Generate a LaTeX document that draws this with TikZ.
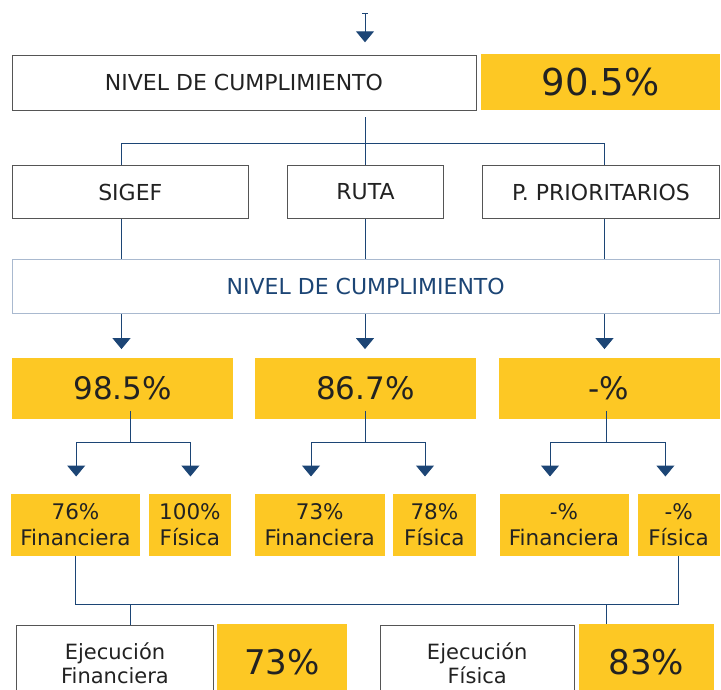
\documentclass[tikz,border=0pt]{standalone}
\usepackage{fontspec}
\setmainfont{DejaVu Sans}
\usetikzlibrary{arrows.meta}
\definecolor{yel}{HTML}{FDC824}
\definecolor{navy}{HTML}{1C4575}
\definecolor{bord}{HTML}{555555}
\definecolor{lbord}{HTML}{A9B9CF}
\definecolor{ink}{HTML}{222222}
\begin{document}
\begin{tikzpicture}[x=1pt,y=-1pt,
  wbox/.style={draw=bord,line width=1pt,fill=white,inner sep=0pt,font=\fontsize{22}{26}\selectfont,text=ink},
  ybox/.style={fill=yel,draw=none,inner sep=0pt,text=ink},
  big/.style={font=\fontsize{37}{40}\selectfont},
  mid/.style={font=\fontsize{31}{36}\selectfont},
  small/.style={font=\fontsize{21.5}{26}\selectfont,align=center},
  conn/.style={draw=navy,line width=1pt},
  arr/.style={conn,-{Triangle[width=18pt,length=11pt]}}
]
\useasboundingbox (0,0) rectangle (721,690);
\clip (0,0) rectangle (721,690);
% top
\coordinate (t0) at (365,12.7);
\coordinate (t1) at (365,42.3);
\draw[conn,{Bar[width=6pt]}-{Triangle[width=18pt,length=11pt]}] (t0) -- (t1);
\node[wbox,minimum width=464,minimum height=54.7] (n1) at (244,82.7) {NIVEL DE CUMPLIMIENTO};
\node[ybox,big,minimum width=239,minimum height=56] (p1) at (600.5,82.4) {90.5\%};
% level 1
\node[wbox,minimum width=236.6,minimum height=52.6] (sig) at (130.3,192) {SIGEF};
\node[wbox,minimum width=156.2,minimum height=52.6] (ruta) at (365.5,192) {RUTA};
\node[wbox,minimum width=237,minimum height=52.6] (ppr) at (601,192) {P. PRIORITARIOS};
\coordinate (h0) at (365,117.3);
\coordinate (hl) at (121.5,144);
\coordinate (hr) at (604.5,144);
\draw[conn] (h0) -- (h0 |- ruta.north);
\draw[conn] (hl |- sig.north) -- (hl) -- (hr) -- (hr |- ppr.north);
% level 2
\node[wbox,draw=lbord,text=navy,minimum width=707.5,minimum height=54] (n2) at (365.75,286.3) {NIVEL DE CUMPLIMIENTO};
\draw[conn] (hl |- sig.south) -- (hl |- n2.north);
\draw[conn] (h0 |- ruta.south) -- (h0 |- n2.north);
\draw[conn] (hr |- ppr.south) -- (hr |- n2.north);
% level 3
\node[ybox,mid,minimum width=221.4,minimum height=60.7] (y1) at (122.7,388.35) {98.5\%};
\node[ybox,mid,minimum width=221,minimum height=60.7] (y2) at (365.5,388.35) {86.7\%};
\node[ybox,mid,minimum width=221,minimum height=60.7] (y3) at (609,388.35) {-\%};
\draw[arr,shorten >=8.7pt] (hl |- n2.south) -- (hl |- y1.north);
\draw[arr,shorten >=8.7pt] (h0 |- n2.south) -- (h0 |- y2.north);
\draw[arr,shorten >=8.7pt] (hr |- n2.south) -- (hr |- y3.north);
% level 4
\node[ybox,small,minimum width=129,minimum height=62] (a1) at (75.5,525) {76\%\\Financiera};
\node[ybox,small,minimum width=82.2,minimum height=62] (a2) at (189.9,525) {100\%\\Física};
\node[ybox,small,minimum width=129.5,minimum height=62] (b1) at (319.75,525) {73\%\\Financiera};
\node[ybox,small,minimum width=83.2,minimum height=62] (b2) at (434.4,525) {78\%\\Física};
\node[ybox,small,minimum width=129,minimum height=62] (c1) at (564,525) {-\%\\Financiera};
\node[ybox,small,minimum width=81.8,minimum height=62] (c2) at (678.6,525) {-\%\\Física};
\coordinate (sa) at (130.8,442);
\coordinate (sb) at (365,442);
\coordinate (sc) at (606.7,442);
\coordinate (la1) at (76.2,442);
\coordinate (la2) at (190.4,442);
\coordinate (lb1) at (311,442);
\coordinate (lb2) at (425,442);
\coordinate (lc1) at (550,442);
\coordinate (lc2) at (665.4,442);
\draw[conn] ([yshift=8pt]sa |- y1.south) -- (sa);
\draw[conn] ([yshift=8pt]sb |- y2.south) -- (sb);
\draw[conn] ([yshift=8pt]sc |- y3.south) -- (sc);
\foreach \p/\q/\n in {la1/la2/a, lb1/lb2/b, lc1/lc2/c}{
  \draw[conn] (\p) -- (\q);
  \draw[arr,shorten >=17.3pt] (\p) -- (\p |- \n1.north);
  \draw[arr,shorten >=17.3pt] (\q) -- (\q |- \n2.north);
}
% level 5
\node[wbox,minimum width=197,minimum height=74.3,align=center,font=\fontsize{21}{24}\selectfont] (ejF) at (115,662.9) {Ejecución\\Financiera};
\node[ybox,font=\fontsize{34}{40}\selectfont,minimum width=129.6,minimum height=76] (v73) at (281.8,662) {73\%};
\node[wbox,minimum width=194.4,minimum height=74.3,align=center,font=\fontsize{21}{24}\selectfont] (ejP) at (477.2,662.9) {Ejecución\\Física};
\node[ybox,font=\fontsize{34}{40}\selectfont,minimum width=135,minimum height=76] (v83) at (646.5,662) {83\%};
\coordinate (jL) at (130.8,604);
\coordinate (jR) at (606.7,604);
\draw[conn] (a1.south) -- (a1.south |- jL) -- (c2.south |- jL) -- (c2.south);
\draw[conn] (jL) -- (jL |- ejF.north);
\draw[conn] (jR) -- (jR |- v83.north);
\end{tikzpicture}
\end{document}
